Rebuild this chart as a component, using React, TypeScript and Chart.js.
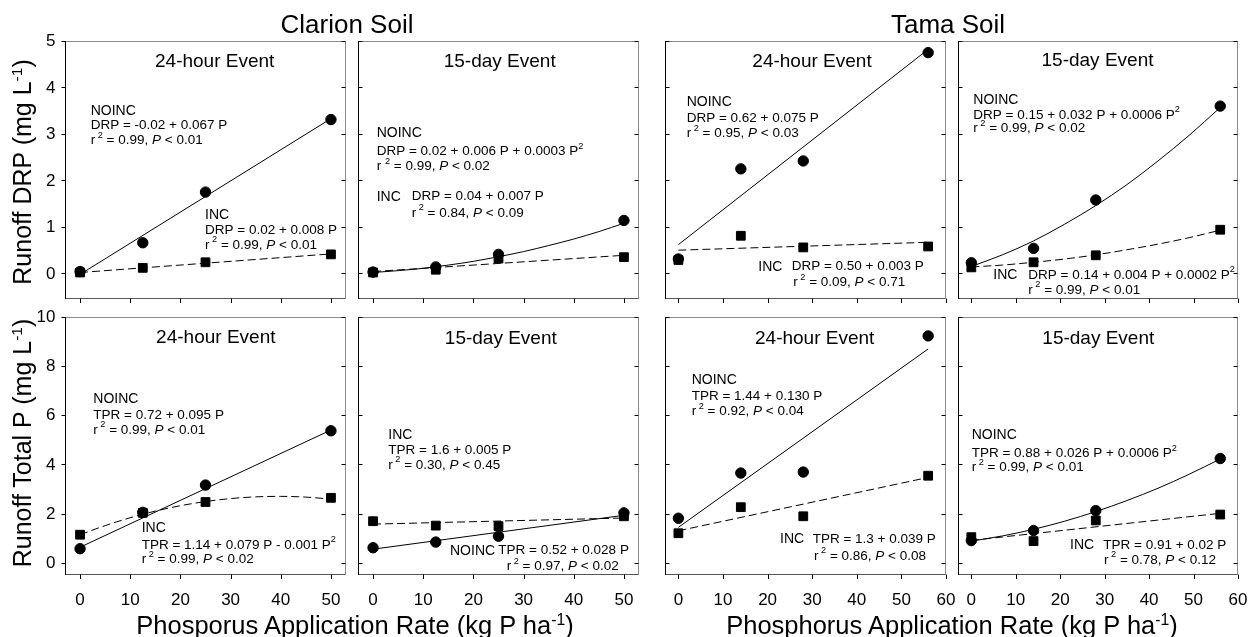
import React, { useEffect, useRef } from "react";
import { Chart, registerables } from "chart.js";

Chart.register(...registerables);

const FONT = '"Liberation Sans", Arial, Helvetica, sans-serif';

// ---------------- data ----------------
const clarionRates = [0, 12.5, 25, 50];
const tamaRates = [0, 14, 28, 56];

const clarion24DrpNoinc = [0.04, 0.66, 1.75, 3.31];
const clarion24DrpInc = [0.02, 0.12, 0.24, 0.41];
const clarion15DrpNoinc = [0.03, 0.14, 0.41, 1.14];
const clarion15DrpInc = [0.02, 0.08, 0.32, 0.35];
const tama24DrpNoinc = [0.31, 2.25, 2.42, 4.75];
const tama24DrpInc = [0.29, 0.81, 0.56, 0.58];
const tama15DrpNoinc = [0.23, 0.54, 1.58, 3.6];
const tama15DrpInc = [0.13, 0.24, 0.39, 0.94];

const clarion24TpNoinc = [0.57, 2.05, 3.16, 5.37];
const clarion24TpInc = [1.14, 2.03, 2.47, 2.64];
const clarion15TpNoinc = [0.61, 0.84, 1.08, 2.03];
const clarion15TpInc = [1.69, 1.51, 1.49, 1.89];
const tama24TpNoinc = [1.81, 3.65, 3.69, 9.23];
const tama24TpInc = [1.2, 2.26, 1.89, 3.54];
const tama15TpNoinc = [0.9, 1.31, 2.12, 4.24];
const tama15TpInc = [1.04, 0.88, 1.72, 1.96];

const clarionLineX = [0, 50];
const clarionCurveX = [0, 5, 10, 15, 20, 25, 30, 35, 40, 45, 50];
const tamaLineX = [0, 56];
const tamaCurveX = [0, 7, 14, 21, 28, 35, 42, 49, 56];

const clarion24DrpNoincFit = [-0.02, 3.33];
const clarion24DrpIncFit = [0.02, 0.42];
const clarion15DrpNoincFit = [0.02, 0.06, 0.11, 0.18, 0.26, 0.36, 0.47, 0.6, 0.74, 0.9, 1.08];
const clarion15DrpIncFit = [0.04, 0.39];
const tama24DrpNoincFit = [0.62, 4.82];
const tama24DrpIncFit = [0.5, 0.67];
const tama15DrpNoincFit = [0.15, 0.4, 0.7, 1.06, 1.46, 1.91, 2.42, 2.97, 3.57];
const tama15DrpIncFit = [0.14, 0.18, 0.24, 0.31, 0.4, 0.51, 0.63, 0.77, 0.93];

const clarion24TpNoincFit = [0.63, 5.4];
const clarion24TpIncFit = [1.14, 1.51, 1.83, 2.1, 2.32, 2.49, 2.61, 2.68, 2.7, 2.67, 2.59];
const clarion15TpNoincFit = [0.55, 1.93];
const clarion15TpIncFit = [1.57, 1.82];
const tama24TpNoincFit = [1.44, 8.7];
const tama24TpIncFit = [1.3, 3.47];
const tama15TpNoincFit = [0.88, 1.09, 1.36, 1.69, 2.08, 2.53, 3.03, 3.6, 4.22];
const tama15TpIncFit = [0.91, 2.01];

// tick labels
const clarionXTicks = [0, 10, 20, 30, 40, 50];
const tamaXTicks = [0, 10, 20, 30, 40, 50, 60];
const drpYTicks = [0, 1, 2, 3, 4, 5];
const tpYTicks = [0, 2, 4, 6, 8, 10];

// ---------------- layout ----------------
const colLeft = [65, 358, 665, 958];
const colWidth = [281, 281, 281, 280];
const rowTop = [41, 317];
const rowHeight = 258;

type Note = { x: number; y: number; text: string; size: number };
interface PanelSpec {
  col: number;
  row: number;
  rates: number[];
  noinc: number[];
  inc: number[];
  noincFitX: number[];
  noincFit: number[];
  incFitX: number[];
  incFit: number[];
  xMin: number;
  xMax: number;
  yMin: number;
  yMax: number;
  xTicks: number[];
  yTicks: number[];
  title: string;
  titleX: number;
  titleY: number;
  notes: Note[];
}

const LBL = 14;
const EQ = 13.5;

const panels: PanelSpec[] = [
  {
    col: 0, row: 0, rates: clarionRates, noinc: clarion24DrpNoinc, inc: clarion24DrpInc,
    noincFitX: clarionLineX, noincFit: clarion24DrpNoincFit, incFitX: clarionLineX, incFit: clarion24DrpIncFit,
    xMin: -3, xMax: 53, yMin: -0.55, yMax: 5, xTicks: clarionXTicks, yTicks: drpYTicks,
    title: "24-hour Event", titleX: 149.7, titleY: 20.5,
    notes: [
      { x: 25.7, y: 70, text: "NOINC", size: LBL },
      { x: 25.7, y: 84, text: "DRP = -0.02 + 0.067 P", size: EQ },
      { x: 25.7, y: 99.5, text: "r^ 2^ = 0.99, _P_ < 0.01", size: EQ },
      { x: 140, y: 174, text: "INC", size: LBL },
      { x: 140, y: 189, text: "DRP = 0.02 + 0.008 P", size: EQ },
      { x: 140, y: 204, text: "r^ 2^ = 0.99, _P_ < 0.01", size: EQ },
    ],
  },
  {
    col: 1, row: 0, rates: clarionRates, noinc: clarion15DrpNoinc, inc: clarion15DrpInc,
    noincFitX: clarionCurveX, noincFit: clarion15DrpNoincFit, incFitX: clarionLineX, incFit: clarion15DrpIncFit,
    xMin: -3, xMax: 53, yMin: -0.55, yMax: 5, xTicks: clarionXTicks, yTicks: drpYTicks,
    title: "15-day Event", titleX: 141.7, titleY: 20.7,
    notes: [
      { x: 18.7, y: 92, text: "NOINC", size: LBL },
      { x: 18.7, y: 110.7, text: "DRP = 0.02 + 0.006 P + 0.0003 P^2^", size: EQ },
      { x: 18.7, y: 125.7, text: "r ^2^ = 0.99, _P_ < 0.02", size: EQ },
      { x: 18.7, y: 155.7, text: "INC", size: LBL },
      { x: 53.7, y: 155.7, text: "DRP = 0.04 + 0.007 P", size: EQ },
      { x: 53.7, y: 172, text: "r^ 2^ = 0.84, _P_ < 0.09", size: EQ },
    ],
  },
  {
    col: 2, row: 0, rates: tamaRates, noinc: tama24DrpNoinc, inc: tama24DrpInc,
    noincFitX: tamaLineX, noincFit: tama24DrpNoincFit, incFitX: tamaLineX, incFit: tama24DrpIncFit,
    xMin: -3, xMax: 60, yMin: -0.55, yMax: 5, xTicks: tamaXTicks, yTicks: drpYTicks,
    title: "24-hour Event", titleX: 147, titleY: 20.7,
    notes: [
      { x: 21.7, y: 60.7, text: "NOINC", size: LBL },
      { x: 21.7, y: 77.3, text: "DRP = 0.62 + 0.075 P", size: EQ },
      { x: 21.7, y: 92.3, text: "r^ 2^ = 0.95, _P_ < 0.03", size: EQ },
      { x: 93.3, y: 225.7, text: "INC", size: LBL },
      { x: 126.7, y: 225.7, text: "DRP = 0.50 + 0.003 P", size: EQ },
      { x: 128.3, y: 241.7, text: "r^ 2^ = 0.09, _P_ < 0.71", size: EQ },
    ],
  },
  {
    col: 3, row: 0, rates: tamaRates, noinc: tama15DrpNoinc, inc: tama15DrpInc,
    noincFitX: tamaCurveX, noincFit: tama15DrpNoincFit, incFitX: tamaCurveX, incFit: tama15DrpIncFit,
    xMin: -3, xMax: 60, yMin: -0.55, yMax: 5, xTicks: tamaXTicks, yTicks: drpYTicks,
    title: "15-day Event", titleX: 139.5, titleY: 20,
    notes: [
      { x: 15.3, y: 59, text: "NOINC", size: LBL },
      { x: 15.3, y: 74, text: "DRP = 0.15 + 0.032 P + 0.0006 P^2^", size: EQ },
      { x: 15.3, y: 87.3, text: "r^ 2^ = 0.99, _P_ < 0.02", size: EQ },
      { x: 35.3, y: 234, text: "INC", size: LBL },
      { x: 70.3, y: 234, text: "DRP = 0.14 + 0.004 P + 0.0002 P^2^", size: EQ },
      { x: 70.3, y: 249, text: "r^ 2^ = 0.99, _P_ < 0.01", size: EQ },
    ],
  },
  {
    col: 0, row: 1, rates: clarionRates, noinc: clarion24TpNoinc, inc: clarion24TpInc,
    noincFitX: clarionLineX, noincFit: clarion24TpNoincFit, incFitX: clarionCurveX, incFit: clarion24TpIncFit,
    xMin: -3, xMax: 53, yMin: -0.5, yMax: 10, xTicks: clarionXTicks, yTicks: tpYTicks,
    title: "24-hour Event", titleX: 150.8, titleY: 20.3,
    notes: [
      { x: 28.3, y: 82, text: "NOINC", size: LBL },
      { x: 28.3, y: 98, text: "TPR = 0.72 + 0.095 P", size: EQ },
      { x: 28.3, y: 113, text: "r^ 2^ = 0.99, _P_ < 0.01", size: EQ },
      { x: 76.7, y: 211.3, text: "INC", size: LBL },
      { x: 76.7, y: 228, text: "TPR = 1.14 + 0.079 P - 0.001 P^2^", size: EQ },
      { x: 76.7, y: 242.3, text: "r^ 2^ = 0.99, _P_ < 0.02", size: EQ },
    ],
  },
  {
    col: 1, row: 1, rates: clarionRates, noinc: clarion15TpNoinc, inc: clarion15TpInc,
    noincFitX: clarionLineX, noincFit: clarion15TpNoincFit, incFitX: clarionLineX, incFit: clarion15TpIncFit,
    xMin: -3, xMax: 53, yMin: -0.5, yMax: 10, xTicks: clarionXTicks, yTicks: tpYTicks,
    title: "15-day Event", titleX: 142.8, titleY: 21.3,
    notes: [
      { x: 30.3, y: 118, text: "INC", size: LBL },
      { x: 30.3, y: 133.7, text: "TPR = 1.6 + 0.005 P", size: EQ },
      { x: 30.3, y: 148, text: "r^ 2^ = 0.30, _P_ < 0.45", size: EQ },
      { x: 92, y: 233.7, text: "NOINC", size: LBL },
      { x: 140.3, y: 233.7, text: "TPR = 0.52 + 0.028 P", size: EQ },
      { x: 148.7, y: 249.7, text: "r^ 2^ = 0.97, _P_ < 0.02", size: EQ },
    ],
  },
  {
    col: 2, row: 1, rates: tamaRates, noinc: tama24TpNoinc, inc: tama24TpInc,
    noincFitX: tamaLineX, noincFit: tama24TpNoincFit, incFitX: tamaLineX, incFit: tama24TpIncFit,
    xMin: -3, xMax: 60, yMin: -0.5, yMax: 10, xTicks: tamaXTicks, yTicks: tpYTicks,
    title: "24-hour Event", titleX: 149.7, titleY: 21.3,
    notes: [
      { x: 26.7, y: 63, text: "NOINC", size: LBL },
      { x: 26.7, y: 79.7, text: "TPR = 1.44 + 0.130 P", size: EQ },
      { x: 26.7, y: 94.7, text: "r^ 2^ = 0.92, _P_ < 0.04", size: EQ },
      { x: 115, y: 222.3, text: "INC", size: LBL },
      { x: 147.7, y: 222.3, text: "TPR = 1.3 + 0.039 P", size: EQ },
      { x: 149, y: 239, text: "r^ 2^ = 0.86, _P_ < 0.08", size: EQ },
    ],
  },
  {
    col: 3, row: 1, rates: tamaRates, noinc: tama15TpNoinc, inc: tama15TpInc,
    noincFitX: tamaCurveX, noincFit: tama15TpNoincFit, incFitX: tamaLineX, incFit: tama15TpIncFit,
    xMin: -3, xMax: 60, yMin: -0.5, yMax: 10, xTicks: tamaXTicks, yTicks: tpYTicks,
    title: "15-day Event", titleX: 140.3, titleY: 21.3,
    notes: [
      { x: 13.7, y: 118, text: "NOINC", size: LBL },
      { x: 13.7, y: 136.3, text: "TPR = 0.88 + 0.026 P + 0.0006 P^2^", size: EQ },
      { x: 13.7, y: 150.3, text: "r^ 2^ = 0.99, _P_ < 0.01", size: EQ },
      { x: 112, y: 228, text: "INC", size: LBL },
      { x: 145.3, y: 228, text: "TPR = 0.91 + 0.02 P", size: EQ },
      { x: 146, y: 243, text: "r^ 2^ = 0.78, _P_ < 0.12", size: EQ },
    ],
  },
];

// ---------------- helpers ----------------
type Seg = { t: string; sup: boolean; it: boolean };
function parseRich(s: string): Seg[] {
  const segs: Seg[] = [];
  let sup = false;
  let it = false;
  let cur = "";
  for (const ch of s) {
    if (ch === "^" || ch === "_") {
      if (cur) segs.push({ t: cur, sup, it });
      cur = "";
      if (ch === "^") sup = !sup;
      else it = !it;
    } else cur += ch;
  }
  if (cur) segs.push({ t: cur, sup, it });
  return segs;
}

function drawRich(ctx: CanvasRenderingContext2D, s: string, x: number, y: number, size: number) {
  let cx = x;
  ctx.textAlign = "left";
  ctx.textBaseline = "middle";
  for (const seg of parseRich(s)) {
    const fs = seg.sup ? size * 0.68 : size;
    ctx.font = `${seg.it ? "italic " : ""}${fs}px ${FONT}`;
    const dy = seg.sup ? -size * 0.38 : 0;
    ctx.fillText(seg.t, cx, y + dy);
    cx += ctx.measureText(seg.t).width;
  }
}

function geom(spec: PanelSpec) {
  const padL = spec.col === 0 ? 65 : 10;
  const padR = 14;
  const padT = 10;
  const padB = spec.row === 0 ? 10 : 40;
  const w = colWidth[spec.col] + padL + padR;
  const h = rowHeight + padT + padB;
  const left = colLeft[spec.col] - padL;
  const top = rowTop[spec.row] - padT;
  return { padL, padR, padT, padB, w, h, left, top };
}

function pts(xs: number[], ys: number[]) {
  return xs.map((x, i) => ({ x, y: ys[i] }));
}

function Panel({ spec }: { spec: PanelSpec }) {
  const ref = useRef<HTMLCanvasElement | null>(null);
  const g = geom(spec);

  useEffect(() => {
    if (!ref.current) return;
    const decor = {
      id: "decor",
      afterDatasetsDraw(chart: any) {
        const ctx: CanvasRenderingContext2D = chart.ctx;
        const { left, right, top, bottom } = chart.chartArea;
        const xs = chart.scales.x;
        const ys = chart.scales.y;
        const L = Math.round(left) + 0.5;
        const R = Math.round(right) - 0.5;
        const T = Math.round(top) + 0.5;
        const B = Math.round(bottom) - 0.5;
        ctx.save();
        ctx.lineWidth = 1;
        // frame
        ctx.strokeStyle = "#8a8a8a";
        ctx.beginPath();
        ctx.moveTo(L, T);
        ctx.lineTo(R, T);
        ctx.lineTo(R, B);
        ctx.stroke();
        ctx.strokeStyle = "#555";
        ctx.beginPath();
        ctx.moveTo(L, B);
        ctx.lineTo(R, B);
        ctx.stroke();
        ctx.strokeStyle = "#000";
        ctx.beginPath();
        ctx.moveTo(L, T - 0.5);
        ctx.lineTo(L, B + 0.5);
        ctx.stroke();
        // ticks
        ctx.strokeStyle = "#000";
        ctx.beginPath();
        for (const v of spec.yTicks) {
          const py = Math.round(ys.getPixelForValue(v)) + 0.5;
          if (spec.col === 0) {
            ctx.moveTo(L - 4, py);
            ctx.lineTo(L, py);
          } else {
            ctx.moveTo(L, py);
            ctx.lineTo(L + 4, py);
          }
          ctx.moveTo(R - 4, py);
          ctx.lineTo(R, py);
        }
        for (const v of spec.xTicks) {
          const px = Math.round(xs.getPixelForValue(v)) + 0.5;
          ctx.moveTo(px, B);
          ctx.lineTo(px, B + 4.5);
        }
        ctx.stroke();
        // tick labels
        ctx.fillStyle = "#000";
        ctx.font = `17px ${FONT}`;
        if (spec.col === 0) {
          ctx.textAlign = "right";
          ctx.textBaseline = "middle";
          for (const v of spec.yTicks) {
            ctx.fillText(String(v), L - 10, ys.getPixelForValue(v) + 0.5);
          }
        }
        if (spec.row === 1) {
          ctx.textAlign = "center";
          ctx.textBaseline = "middle";
          for (const v of spec.xTicks) {
            ctx.fillText(String(v), xs.getPixelForValue(v), B + 26);
          }
        }
        // title
        ctx.font = `19px ${FONT}`;
        ctx.textAlign = "center";
        ctx.textBaseline = "middle";
        ctx.fillText(spec.title, left + spec.titleX, top + spec.titleY);
        // notes
        for (const n of spec.notes) {
          drawRich(ctx, n.text, left + n.x, top + n.y, n.size);
        }
        ctx.restore();
      },
    };

    const chart = new Chart(ref.current, {
      type: "scatter",
      data: {
        datasets: [
          {
            label: "INC fit",
            data: pts(spec.incFitX, spec.incFit),
            showLine: true,
            borderColor: "#000",
            borderWidth: 1,
            borderDash: [8, 4],
            pointRadius: 0,
            cubicInterpolationMode: "monotone",
            clip: false,
          } as any,
          {
            label: "NOINC fit",
            data: pts(spec.noincFitX, spec.noincFit),
            showLine: true,
            borderColor: "#000",
            borderWidth: 1,
            pointRadius: 0,
            cubicInterpolationMode: "monotone",
            clip: false,
          } as any,
          {
            label: "INC",
            data: pts(spec.rates, spec.inc),
            showLine: false,
            pointStyle: "rect",
            pointRadius: 6.2,
            pointBorderWidth: 1,
            backgroundColor: "#000",
            borderColor: "#000",
            clip: false,
          } as any,
          {
            label: "NOINC",
            data: pts(spec.rates, spec.noinc),
            showLine: false,
            pointStyle: "circle",
            pointRadius: 5.2,
            pointBorderWidth: 1,
            backgroundColor: "#000",
            borderColor: "#000",
            clip: false,
          } as any,
        ],
      },
      options: {
        animation: false,
        responsive: false,
        devicePixelRatio: 1,
        events: [],
        layout: { padding: { left: g.padL, right: g.padR, top: g.padT, bottom: g.padB } },
        plugins: { legend: { display: false }, tooltip: { enabled: false } },
        scales: {
          x: { type: "linear", min: spec.xMin, max: spec.xMax, display: false },
          y: { type: "linear", min: spec.yMin, max: spec.yMax, display: false },
        },
      },
      plugins: [decor],
    } as any);
    return () => chart.destroy();
  }, []);

  return (
    <canvas
      ref={ref}
      width={g.w}
      height={g.h}
      style={{ position: "absolute", left: g.left, top: g.top, width: g.w, height: g.h }}
    />
  );
}

const supStyle: React.CSSProperties = {
  fontSize: "0.62em",
  position: "relative",
  top: "-0.55em",
  verticalAlign: "baseline",
};

export default function App() {
  const textBase: React.CSSProperties = {
    position: "absolute",
    fontFamily: FONT,
    color: "#000",
    whiteSpace: "nowrap",
    lineHeight: 1,
  };
  return (
    <div
      style={{
        position: "absolute",
        left: 0,
        top: 0,
        width: 1250,
        height: 637,
        background: "#fff",
        overflow: "hidden",
      }}
    >
      {panels.map((p, i) => (
        <Panel key={i} spec={p} />
      ))}
      <div style={{ ...textBase, fontSize: 26, left: 347, top: 11, transform: "translateX(-50%)" }}>
        Clarion Soil
      </div>
      <div style={{ ...textBase, fontSize: 26, left: 948, top: 11, transform: "translateX(-50%)" }}>
        Tama Soil
      </div>
      <div style={{ ...textBase, fontSize: 25.5, left: 355, top: 613, transform: "translateX(-50%)" }}>
        Phosporus Application Rate (kg P ha<span style={supStyle}>-1</span>)
      </div>
      <div style={{ ...textBase, fontSize: 25.5, left: 952, top: 613, transform: "translateX(-50%)" }}>
        Phosphorus Application Rate (kg P ha<span style={supStyle}>-1</span>)
      </div>
      <div
        style={{
          ...textBase,
          fontSize: 25,
          left: 22,
          top: 172,
          transform: "translate(-50%, -50%) rotate(-90deg)",
        }}
      >
        Runoff DRP (mg L<span style={supStyle}>-1</span>)
      </div>
      <div
        style={{
          ...textBase,
          fontSize: 25,
          left: 22,
          top: 443,
          transform: "translate(-50%, -50%) rotate(-90deg)",
        }}
      >
        Runoff Total P (mg L<span style={supStyle}>-1</span>)
      </div>
    </div>
  );
}
